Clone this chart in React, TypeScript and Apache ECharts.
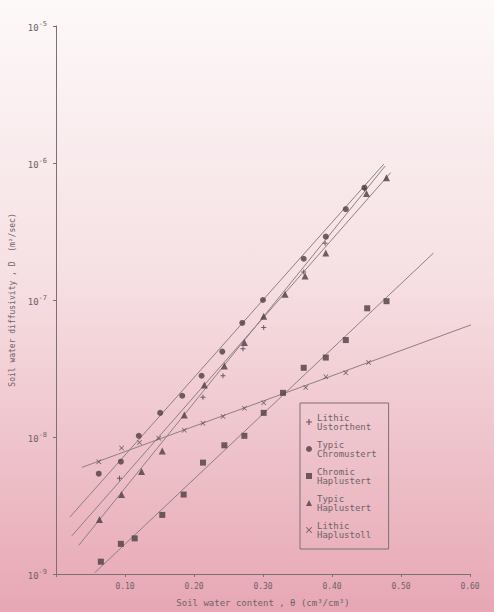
import React, { useEffect, useRef } from "react";
import * as echarts from "echarts";

// Soil water content θ (cm³/cm³) and diffusivity D (m²/sec)
const lithicUstorthentTheta = [0.092, 0.213, 0.242, 0.271, 0.301, 0.359, 0.39, 0.447];
const lithicUstorthentD = [5.0e-9, 1.95e-8, 2.8e-8, 4.4e-8, 6.3e-8, 1.6e-7, 2.6e-7, 6.5e-7];

const typicChromustertTheta = [0.062, 0.094, 0.12, 0.151, 0.183, 0.211, 0.241, 0.27, 0.3, 0.359, 0.391, 0.42, 0.447];
const typicChromustertD = [5.4e-9, 6.6e-9, 1.02e-8, 1.5e-8, 2.0e-8, 2.8e-8, 4.2e-8, 6.8e-8, 1.0e-7, 2.0e-7, 2.9e-7, 4.6e-7, 6.6e-7];

const chromicHaplustertTheta = [0.065, 0.094, 0.114, 0.154, 0.185, 0.213, 0.244, 0.273, 0.301, 0.329, 0.359, 0.391, 0.42, 0.451, 0.479];
const chromicHaplustertD = [1.23e-9, 1.66e-9, 1.82e-9, 2.7e-9, 3.8e-9, 6.5e-9, 8.7e-9, 1.02e-8, 1.5e-8, 2.1e-8, 3.2e-8, 3.8e-8, 5.1e-8, 8.7e-8, 9.8e-8];

const typicHaplustertTheta = [0.063, 0.095, 0.124, 0.154, 0.186, 0.215, 0.244, 0.273, 0.301, 0.332, 0.361, 0.391, 0.45, 0.479];
const typicHaplustertD = [2.5e-9, 3.8e-9, 5.6e-9, 7.9e-9, 1.45e-8, 2.4e-8, 3.3e-8, 4.9e-8, 7.6e-8, 1.1e-7, 1.5e-7, 2.2e-7, 6.0e-7, 7.8e-7];

const lithicHaplustollTheta = [0.062, 0.095, 0.121, 0.149, 0.186, 0.213, 0.242, 0.273, 0.301, 0.362, 0.391, 0.42, 0.453];
const lithicHaplustollD = [6.6e-9, 8.3e-9, 9.1e-9, 9.8e-9, 1.12e-8, 1.26e-8, 1.41e-8, 1.62e-8, 1.78e-8, 2.3e-8, 2.75e-8, 2.95e-8, 3.5e-8];

// fitted regression lines: end points [θ, D]
const fitLithicUstorthent = [[0.023, 1.9e-9], [0.485, 8.5e-7]];
const fitTypicChromustert = [[0.02, 2.6e-9], [0.475, 9.8e-7]];
const fitChromicHaplustert = [[0.056, 1.02e-9], [0.547, 2.2e-7]];
const fitTypicHaplustert = [[0.033, 1.62e-9], [0.477, 9.5e-7]];
const fitLithicHaplustoll = [[0.0375, 6.0e-9], [0.629, 7.4e-8]];

const seriesNames = ["Lithic Ustorthent", "Typic Chromustert", "Chromic Haplustert", "Typic Haplustert", "Lithic Haplustoll"];
const xTickLabels = ["", "0.10", "0.20", "0.30", "0.40", "0.50", "0.60"];
const yTickExponents = ["-9", "-8", "-7", "-6", "-5"];

const zip = (xs: number[], ys: number[]) => xs.map((x, i) => [x, ys[i]]);

const PLUS = "path://M4,0H6V4H10V6H6V10H4V6H0V4H4Z";
const CROSS = "path://M1,0L5,4L9,0L10,1L6,5L10,9L9,10L5,6L1,10L0,9L4,5L0,1Z";
const MARK = "#4d3c42";
const LINE = "#8d7f84";
const TEXT = "#6e6266";
const FONT = "'DejaVu Sans Mono', 'Liberation Mono', monospace";

export default function App() {
  const ref = useRef<HTMLDivElement>(null);
  useEffect(() => {
    if (!ref.current) return;
    const chart = echarts.init(ref.current, null, { renderer: "svg" });
    const scatter = (name: string, data: number[][], symbol: string, size: number) => ({
      type: "scatter",
      name,
      data,
      symbol,
      symbolSize: size,
      itemStyle: { color: MARK },
      z: 3,
    });
    const fit = (data: number[][]) => ({
      type: "line",
      data,
      symbol: "none",
      clip: false,
      silent: true,
      lineStyle: { color: LINE, width: 1 },
      z: 2,
    });
    chart.setOption({
      animation: false,
      backgroundColor: {
        type: "linear",
        x: 0,
        y: 0,
        x2: 0,
        y2: 1,
        colorStops: [
          { offset: 0, color: "#fdf9f9" },
          { offset: 0.45, color: "#f6e0e3" },
          { offset: 1, color: "#e7a7b4" },
        ],
      },
      grid: { left: 54, right: 24, top: 26, bottom: 38 },
      xAxis: {
        type: "value",
        min: 0,
        max: 0.6,
        interval: 0.1,
        name: "Soil water content , θ (cm³/cm³)",
        nameLocation: "middle",
        nameGap: 24,
        nameTextStyle: { color: TEXT, fontSize: 9, fontFamily: FONT },
        axisLine: { lineStyle: { color: "#7c7074", width: 1 } },
        axisTick: { length: 3, lineStyle: { color: "#7c7074" } },
        axisLabel: {
          color: TEXT,
          fontSize: 8,
          fontFamily: FONT,
          margin: 8,
          formatter: (v: number) => xTickLabels[Math.round(v * 10)] ?? "",
        },
        splitLine: { show: false },
      },
      yAxis: {
        type: "log",
        logBase: 10,
        min: 1e-9,
        max: 1e-5,
        name: "Soil water diffusivity , D  (m²/sec)",
        nameLocation: "middle",
        nameGap: 40,
        nameTextStyle: { color: TEXT, fontSize: 8, fontFamily: FONT },
        axisLine: { show: true, lineStyle: { color: "#7c7074", width: 1 } },
        axisTick: { length: 3, lineStyle: { color: "#7c7074" } },
        minorTick: { show: false },
        axisLabel: {
          color: TEXT,
          fontFamily: FONT,
          margin: 9,
          formatter: (v: number) => {
            const e = String(Math.round(Math.log10(v)));
            return yTickExponents.includes(e) ? `{b|10}{s|${e}}` : "";
          },
          rich: {
            b: { fontSize: 9, color: TEXT, fontFamily: FONT, padding: [4, 0, 0, 0] },
            s: { fontSize: 7, color: TEXT, fontFamily: FONT, padding: [0, 0, 4, 0] },
          },
        },
        splitLine: { show: false },
      },
      legend: {
        orient: "vertical",
        left: 300,
        top: 403,
        data: seriesNames,
        itemWidth: 6,
        itemHeight: 6,
        itemGap: 9,
        padding: [10, 12, 10, 6],
        borderColor: "#7c7074",
        borderWidth: 1,
        formatter: (n: string) => n.replace(" ", "\n"),
        textStyle: { color: TEXT, fontSize: 9, lineHeight: 9, fontFamily: FONT },
      },
      series: [
        fit(fitLithicUstorthent),
        fit(fitTypicChromustert),
        fit(fitChromicHaplustert),
        fit(fitTypicHaplustert),
        fit(fitLithicHaplustoll),
        scatter(seriesNames[0], zip(lithicUstorthentTheta, lithicUstorthentD), PLUS, 5),
        scatter(seriesNames[1], zip(typicChromustertTheta, typicChromustertD), "circle", 6),
        scatter(seriesNames[2], zip(chromicHaplustertTheta, chromicHaplustertD), "rect", 6),
        scatter(seriesNames[3], zip(typicHaplustertTheta, typicHaplustertD), "triangle", 7),
        scatter(seriesNames[4], zip(lithicHaplustollTheta, lithicHaplustollD), CROSS, 5),
      ],
    });
    return () => chart.dispose();
  }, []);
  return <div ref={ref} style={{ position: "fixed", left: 0, top: 0, width: 494, height: 612 }} />;
}
